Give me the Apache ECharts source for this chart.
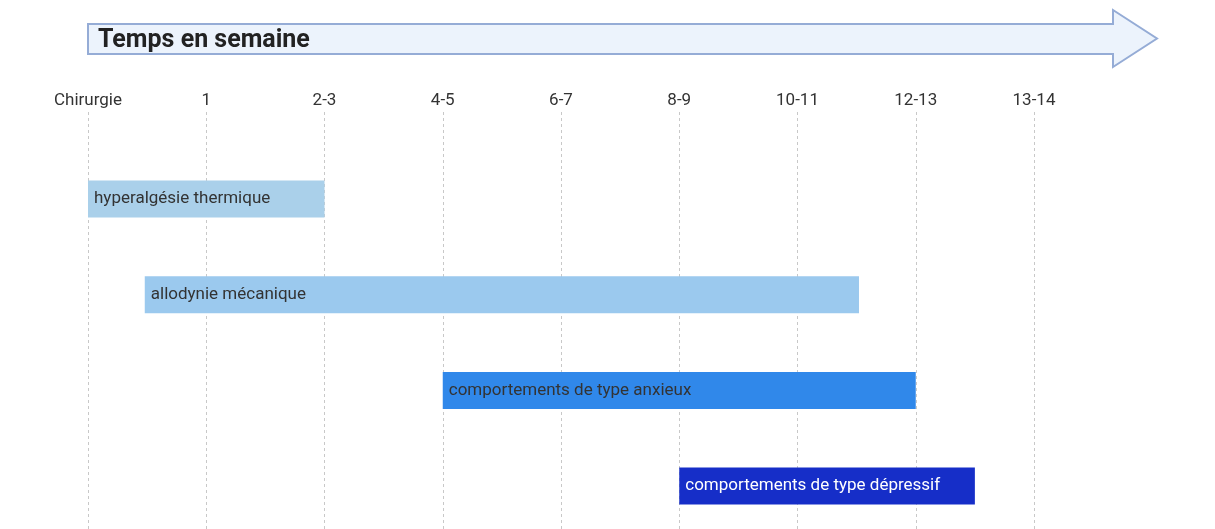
<!DOCTYPE html>
<html>
<head>
<meta charset="utf-8">
<script src="https://cdn.jsdelivr.net/npm/echarts@6/dist/echarts.min.js"></script>
<style>
  html, body { margin: 0; padding: 0; background: #fff; }
  #chart { width: 1215px; height: 529px; }
</style>
</head>
<body>
<div id="chart"></div>
<script>
const tickLabels = ['Chirurgie', '1', '2-3', '4-5', '6-7', '8-9', '10-11', '12-13', '13-14'];
const phases = ['hyperalgésie thermique', 'allodynie mécanique', 'comportements de type anxieux', 'comportements de type dépressif'];
const starts = [0, 0.48, 3, 5];
const ends = [2, 6.52, 7, 7.5];
const colors = ['#aad0ea', '#9bc9ee', '#3088ea', '#162ec8'];
const textColors = ['#333', '#333', '#333', '#fff'];

const myChart = echarts.init(document.getElementById('chart'));

const option = {
  animation: false,
  grid: { left: 88, right: 181, top: 112, bottom: 0 },
  xAxis: {
    type: 'value',
    position: 'top',
    min: 0,
    max: tickLabels.length - 1,
    interval: 1,
    axisLine: { show: false },
    axisTick: { show: false },
    axisLabel: {
      margin: 3,
      color: '#333',
      fontFamily: 'Roboto',
      fontSize: 17,
      formatter: v => tickLabels[v] || ''
    },
    splitLine: { lineStyle: { type: [3, 3], color: '#c8c8c8' } }
  },
  yAxis: {
    type: 'value',
    inverse: true,
    min: 0.091,
    max: 4.448,
    show: false
  },
  series: [{
    type: 'custom',
    data: phases.map((p, i) => [starts[i], ends[i], i + 1]),
    renderItem: (params, api) => {
      const i = params.dataIndex;
      const a = api.coord([api.value(0), api.value(2)]);
      const b = api.coord([api.value(1), api.value(2)]);
      const h = 37;
      return {
        type: 'rect',
        shape: { x: a[0], y: a[1] - h / 2, width: b[0] - a[0], height: h },
        style: { fill: colors[i] },
        textContent: {
          style: {
            text: phases[i],
            fill: textColors[i],
            font: '17px Roboto'
          }
        },
        textConfig: { position: 'insideLeft', distance: 6 }
      };
    }
  }],
  graphic: [
    {
      type: 'polygon',
      shape: {
        points: [[88, 24], [1113, 24], [1113, 10], [1157, 38.5], [1113, 67], [1113, 54], [88, 54]]
      },
      style: { fill: '#ecf3fc', stroke: '#95acd6', lineWidth: 2 }
    },
    {
      type: 'text',
      left: 98,
      top: 28,
      style: { text: 'Temps en semaine', font: 'bold 25px Roboto', fill: '#222' }
    }
  ]
};

myChart.setOption(option);
</script>
</body>
</html>
